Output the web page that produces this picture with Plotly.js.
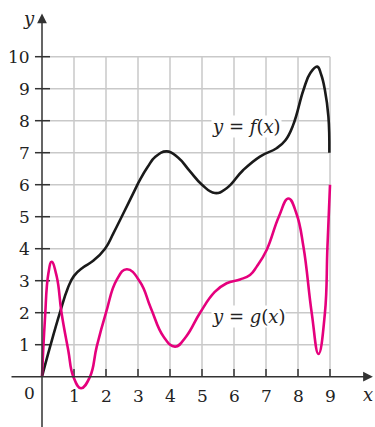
<!DOCTYPE html>
<html>
<head>
<meta charset="utf-8">
<script src="https://cdn.plot.ly/plotly-3.0.1.min.js"></script>
<style>html,body{margin:0;padding:0;background:#fff;}#chart{width:375px;height:427px;}</style>
</head>
<body>
<div id="chart"></div>
<script>
// f(x)
var fX = [0, 0.27, 0.56, 0.8, 1.0, 1.29, 1.6, 1.97, 2.23, 2.54, 2.85, 3.06, 3.3, 3.55, 3.9, 4.25, 4.6, 5.0, 5.4, 5.77, 6.29, 6.81, 7.33, 7.6, 7.85, 8.17, 8.38, 8.6, 8.72, 8.84, 8.95, 8.98];
var fY = [0, 1.0, 2.0, 2.75, 3.15, 3.42, 3.62, 4.0, 4.48, 5.1, 5.73, 6.15, 6.55, 6.88, 7.04, 6.85, 6.45, 6.0, 5.74, 5.89, 6.46, 6.88, 7.14, 7.38, 7.87, 8.96, 9.48, 9.69, 9.45, 8.96, 8.13, 7.0];
// g(x)
var gX = [0, 0.09, 0.2, 0.3, 0.46, 0.61, 0.82, 0.98, 1.22, 1.5, 1.71, 2.0, 2.33, 2.65, 3.06, 3.4, 3.8, 4.16, 4.5, 4.94, 5.4, 5.77, 6.19, 6.5, 6.71, 7.02, 7.4, 7.7, 7.95, 8.17, 8.43, 8.64, 8.84, 8.92, 9.0];
var gY = [0, 1.77, 3.23, 3.59, 3.13, 2.0, 0.83, 0.0, -0.36, 0.0, 0.94, 2.0, 3.02, 3.36, 2.97, 2.15, 1.25, 0.94, 1.25, 2.0, 2.65, 2.92, 3.04, 3.18, 3.44, 3.96, 5.0, 5.57, 5.1, 4.06, 1.98, 0.71, 1.98, 4.06, 6.0];

var xTicks = [1, 2, 3, 4, 5, 6, 7, 8, 9];
var xTickLabels = ['1', '2', '3', '4', '5', '6', '7', '8', '9'];
var yTicks = [1, 2, 3, 4, 5, 6, 7, 8, 9, 10];
var yTickLabels = ['1', '2', '3', '4', '5', '6', '7', '8', '9', '10'];
var originLabel = '0';
var fLabel = '<i>y</i> = <i>f</i>(<i>x</i>)';
var gLabel = '<i>y</i> = <i>g</i>(<i>x</i>)';

var gridMaxX = 9, gridMaxY = 10;
var serif = 'DejaVu Serif';
var axisColor = '#333333';
var textColor = '#222222';

var shapes = [];
for (var i = 0; i < xTicks.length; i++) {
  shapes.push({type:'line', layer:'below', x0:xTicks[i], x1:xTicks[i], y0:0, y1:gridMaxY, line:{color:'#c9c9c9', width:1.5}});
}
for (var j = 0; j < yTicks.length; j++) {
  shapes.push({type:'line', layer:'below', x0:0, x1:gridMaxX, y0:yTicks[j], y1:yTicks[j], line:{color:'#c9c9c9', width:1.5}});
}
for (var i = 0; i < xTicks.length; i++) {
  shapes.push({type:'line', layer:'below', x0:xTicks[i], x1:xTicks[i], y0:0, y1:0.24, line:{color:axisColor, width:1.5}});
}
for (var j = 0; j < yTicks.length; j++) {
  shapes.push({type:'line', layer:'below', x0:-0.22, x1:0.25, y0:yTicks[j], y1:yTicks[j], line:{color:axisColor, width:1.5}});
}

var annotations = [];
for (var i = 0; i < xTicks.length; i++) {
  annotations.push({x:xTicks[i], y:-0.6, xref:'x', yref:'y', text:xTickLabels[i], showarrow:false,
    font:{family:serif, size:17, color:textColor}, xanchor:'center', yanchor:'middle'});
}
for (var j = 0; j < yTicks.length; j++) {
  annotations.push({x:-0.3, y:yTicks[j], xref:'x', yref:'y', text:yTickLabels[j], showarrow:false,
    font:{family:serif, size:17, color:textColor}, xanchor:'right', yanchor:'middle'});
}
annotations.push({x:-0.38, y:-0.5, xref:'x', yref:'y', text:originLabel, showarrow:false,
  font:{family:serif, size:17, color:textColor}, xanchor:'center', yanchor:'middle'});
annotations.push({x:10.34, y:0, ax:-1.0, ay:0, xref:'x', yref:'y', axref:'x', ayref:'y', text:'', showarrow:true,
  arrowhead:2, arrowsize:1.3, arrowwidth:1.5, arrowcolor:axisColor, standoff:0, startstandoff:0});
annotations.push({x:0, y:11.35, ax:0, ay:-1.7, xref:'x', yref:'y', axref:'x', ayref:'y', text:'', showarrow:true,
  arrowhead:2, arrowsize:1.3, arrowwidth:1.5, arrowcolor:axisColor, standoff:0, startstandoff:0});
annotations.push({x:-0.4, y:11.2, xref:'x', yref:'y', text:'<i>y</i>', showarrow:false,
  font:{family:serif, size:18, color:textColor}, xanchor:'center', yanchor:'middle'});
annotations.push({x:10.406, y:-0.55, xref:'x', yref:'y', text:'<i>x</i>', showarrow:false,
  font:{family:serif, size:18, color:textColor}, xanchor:'right', yanchor:'middle'});
annotations.push({x:6.4, y:7.81, xref:'x', yref:'y', text:fLabel, showarrow:false, bgcolor:'#ffffff',
  font:{family:serif, size:18, color:textColor}, xanchor:'center', yanchor:'middle', borderpad:0});
annotations.push({x:6.45, y:1.875, xref:'x', yref:'y', text:gLabel, showarrow:false, bgcolor:'#ffffff',
  font:{family:serif, size:18, color:textColor}, xanchor:'center', yanchor:'middle', borderpad:0});

var traces = [
  {x:fX, y:fY, type:'scatter', mode:'lines', line:{color:'#1a1a1a', width:2.6, shape:'spline', smoothing:1.3}, hoverinfo:'skip'},
  {x:gX, y:gY, type:'scatter', mode:'lines', line:{color:'#e5007d', width:2.6, shape:'spline', smoothing:1.3}, hoverinfo:'skip'}
];

var layout = {
  width:375, height:427,
  margin:{l:0, r:0, t:0, b:0},
  paper_bgcolor:'#ffffff', plot_bgcolor:'#ffffff',
  showlegend:false,
  xaxis:{range:[-1.3125, 10.406], visible:false, fixedrange:true},
  yaxis:{range:[-1.572, 11.772], visible:false, fixedrange:true},
  shapes:shapes,
  annotations:annotations
};
Plotly.newPlot('chart', traces, layout, {staticPlot:true, displayModeBar:false});
</script>
</body>
</html>
